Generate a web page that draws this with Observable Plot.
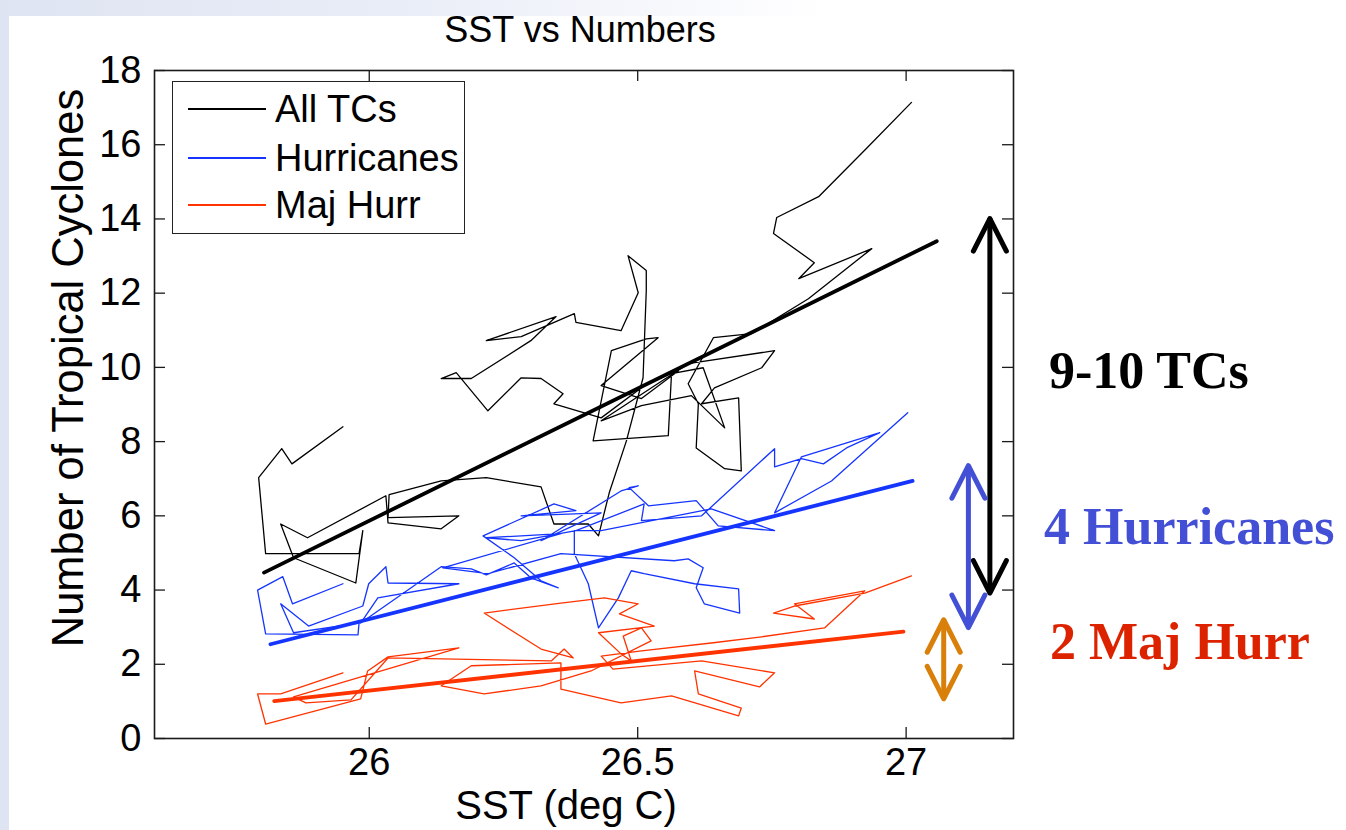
<!DOCTYPE html>
<html><head><meta charset="utf-8">
<script src="https://cdn.jsdelivr.net/npm/d3@7"></script>
<script src="https://cdn.jsdelivr.net/npm/@observablehq/plot@0.6"></script>
<style>
body{margin:0;background:#fff;}
#page{position:relative;width:1346px;height:830px;overflow:hidden;background:#fff;font-family:"Liberation Sans",Arial,Helvetica,sans-serif;color:#000}
#lstrip{position:absolute;left:0;top:0;width:9px;height:830px;background:#dfe4f2}
#tstrip{position:absolute;left:0;top:0;width:1346px;height:16px;background:linear-gradient(to right,#dfe4f2 0%,#e9edf7 30%,#ffffff 62%)}
#chart{position:absolute;left:0;top:0}
.lbl{position:absolute;white-space:nowrap;line-height:1}
#title{left:580px;top:30px;font-size:36px;transform:translate(-50%,-50%)}
#xlabel{left:566px;top:805px;font-size:40px;transform:translate(-50%,-50%)}
#ylabel{left:69px;top:368px;font-size:43.5px;transform:translate(-50%,-50%) rotate(-90deg)}
#legend{position:absolute;left:172px;top:81px;width:293px;height:153px;box-sizing:border-box;border:1.6px solid #222;background:#fff}
.sw{position:absolute;left:15px;width:78px;height:1.4px}
.lt{position:absolute;left:102px;font-size:38px;line-height:1;transform:translateY(-50%);white-space:nowrap}
</style></head>
<body>
<div id="page">
  <div id="lstrip"></div><div id="tstrip"></div>
  <div id="chart"></div>
  <div class="lbl" id="title">SST vs Numbers</div>
  <div class="lbl" id="xlabel">SST (deg C)</div>
  <div class="lbl" id="ylabel">Number of Tropical Cyclones</div>
  <div id="legend"></div>
</div>
<script>
// ---- data ----
const allSST   = [25.951,25.856,25.837,25.794,25.807,25.981,25.988,25.975,25.859,25.835,25.885,
  26.031,26.035,26.134,26.167,26.035,26.037,26.134,26.218,26.320,26.344,26.408,26.427,26.447,
  26.479,26.510,26.516,26.516,26.482,26.501,26.469,26.385,26.382,26.283,26.218,
  26.348,26.301,
  26.190,26.134,26.162,26.221,26.283,26.320,26.361,26.344,
  26.432,26.520,26.576,26.507,
  26.432,26.538,26.516,26.451,26.417,26.557,26.563,26.622,26.662,26.600,26.507,26.432,26.594,26.755,26.731,26.643,26.619,26.688,26.693,26.662,26.609,26.613,26.594,26.641,26.712,26.818,26.936,26.800,26.829,26.753,26.759,26.837,26.926,27.010];
const allCount = [8.40,7.40,7.81,7.03,4.98,4.98,5.60,4.19,4.87,5.78,5.41,
  6.54,5.81,5.65,6.00,5.95,6.57,6.94,7.03,6.78,5.78,5.78,5.46,6.62,
  8.02,9.72,12.07,12.61,13.01,12.01,10.99,11.21,11.45,10.83,10.72,
  11.37,10.72,
  9.70,9.70,9.86,8.83,9.72,9.70,9.29,9.02,
  8.64,9.59,9.91,9.16,
  9.51,10.80,10.77,10.45,8.02,8.16,9.83,9.99,8.37,9.24,8.97,8.56,10.10,10.45,9.99,9.45,9.02,9.18,7.21,7.27,7.83,9.02,9.56,10.80,10.91,11.85,13.20,12.39,12.82,13.61,14.04,14.60,15.90,17.14];

const hurSST   = [25.951,25.857,25.839,25.792,25.807,25.979,25.981,25.859,25.835,25.887,25.988,25.999,26.031,26.035,26.167,26.016,25.984,26.134,26.190,26.218,26.270,26.301,26.352,26.320,26.270,26.212,26.344,26.385,26.283,
  26.432,26.320,
  26.469,26.501,26.484,26.520,26.609,26.650,26.755,26.637,26.432,26.382,26.382,26.408,26.427,26.464,26.488,26.512,26.606,26.688,26.690,26.624,26.609,26.622,26.594,26.568,26.357,26.221,26.137,26.357,26.218,
  26.283,26.385,26.512,
  26.507,26.619,26.755,26.755,26.805,26.846,26.889,26.951,26.805,26.755,26.861,27.003];
const hurCount = [4.17,3.63,4.36,4.00,2.82,2.79,3.11,2.85,3.63,3.03,3.57,4.17,4.63,4.19,4.17,3.79,3.11,4.63,4.57,4.41,4.73,4.33,4.06,4.25,4.87,5.46,6.32,6.14,6.00,
  6.08,5.33,
  6.67,6.81,6.76,6.27,6.41,5.73,5.60,6.19,5.60,5.60,4.98,4.17,2.98,3.79,4.52,4.44,4.17,4.03,3.38,3.63,4.06,4.60,4.84,4.79,4.98,4.44,4.60,5.52,5.41,
  5.33,5.60,6.32,
  5.87,6.00,7.81,7.32,7.54,7.40,7.83,8.24,7.59,6.08,6.94,8.78];

const majSST   = [25.951,25.835,25.792,25.807,25.984,25.997,26.035,26.167,25.859,25.882,25.966,26.035,26.339,26.363,26.380,26.320,26.214,26.357,26.438,26.501,26.466,26.531,26.427,26.469,
  26.488,26.473,26.507,26.525,
  26.413,26.320,26.214,26.134,
  26.190,26.357,
  26.357,26.469,26.563,26.688,26.693,26.613,26.606,26.727,26.755,26.619,26.454,26.432,26.507,26.641,26.731,26.848,26.923,26.792,26.829,26.753,26.792,26.923,27.010];
const majCount = [1.77,1.20,1.20,0.39,1.07,1.82,2.20,2.44,1.12,0.96,1.04,2.17,2.09,2.41,2.17,2.41,3.38,3.65,3.79,3.63,3.36,3.03,2.85,2.28,
  2.09,2.76,2.98,2.63,
  1.82,1.42,1.20,1.42,
  1.96,2.04,
  1.33,0.96,1.15,0.61,0.82,1.20,1.82,1.39,1.77,2.09,1.87,2.22,2.36,2.58,2.74,2.98,3.98,3.63,3.22,3.38,3.57,3.92,4.38];

// linear fits (end points)
const allFitSST = [25.804, 27.057], allFitCount = [4.47, 13.40];
const hurFitSST = [25.816, 27.012], hurFitCount = [2.54, 6.94];
const majFitSST = [25.823, 26.995], majFitCount = [1.01, 2.88];

const seriesNames  = ["All TCs", "Hurricanes", "Maj Hurr"];
const seriesColors = ["#000000", "#1535ff", "#ff3300"];

const xTicks = [26, 26.5, 27], xTickLabels = ["26", "26.5", "27"];
const yTicks = [0, 2, 4, 6, 8, 10, 12, 14, 16, 18];
const yTickLabels = ["0", "2", "4", "6", "8", "10", "12", "14", "16", "18"];

// annotation arrows (double headed) and labels
const arrowSST    = [27.156, 27.116, 27.070];
const arrowLow    = [3.92, 2.99, 1.07];
const arrowHigh   = [14.01, 7.35, 3.20];
const arrowColors = ["#000000", "#4350d6", "#d9800a"];
const noteLabels  = ["9-10 TCs", "4 Hurricanes", "2 Maj Hurr"];
const noteSST     = [27.266, 27.257, 27.268];
const noteCount   = [9.90, 5.68, 2.58];
const noteColors  = ["#000000", "#4350d6", "#dd2200"];

// ---- build ----
const W = 1346, H = 830, ML = 154, MR = 333, MT = 70, MB = 92;
const frameW = W - ML - MR, frameH = H - MT - MB, tickLen = 11;
const toRows = (xs, ys) => xs.map((x, i) => ({x, y: ys[i]}));

const thin = [[allSST, allCount], [hurSST, hurCount], [majSST, majCount]];
const fits = [[allFitSST, allFitCount], [hurFitSST, hurFitCount], [majFitSST, majFitCount]];

const chevron = {draw(ctx) { ctx.moveTo(-16.5, 32.5); ctx.lineTo(0, 0); ctx.lineTo(16.5, 32.5); }};

const marks = [];
thin.forEach(([xs, ys], k) => marks.push(Plot.line(toRows(xs, ys), {x: "x", y: "y", stroke: seriesColors[k], strokeWidth: 1.3})));
fits.forEach(([xs, ys], k) => marks.push(Plot.line(toRows(xs, ys), {x: "x", y: "y", stroke: seriesColors[k], strokeWidth: 3.8})));
marks.push(Plot.frame({stroke: "#1a1a1a", strokeWidth: 1.6}));
marks.push(Plot.tickY(yTicks, {y: d => d, insetRight: frameW - tickLen, stroke: "#1a1a1a", strokeWidth: 1.3}));
marks.push(Plot.tickY(yTicks, {y: d => d, insetLeft: frameW - tickLen, stroke: "#1a1a1a", strokeWidth: 1.3}));
marks.push(Plot.tickX(xTicks, {x: d => d, insetTop: frameH - tickLen, stroke: "#1a1a1a", strokeWidth: 1.3}));
marks.push(Plot.tickX(xTicks, {x: d => d, insetBottom: frameH - tickLen, stroke: "#1a1a1a", strokeWidth: 1.3}));
marks.push(Plot.axisX(xTicks, {anchor: "bottom", tickSize: 0, tickPadding: 10, label: null, fontSize: 38, tickFormat: d => xTickLabels[xTicks.indexOf(d)]}));
marks.push(Plot.axisY(yTicks, {anchor: "left", tickSize: 0, tickPadding: 13, label: null, fontSize: 38, tickFormat: d => yTickLabels[yTicks.indexOf(d)]}));

arrowSST.forEach((x, k) => {
  const rows = [{x, y1: arrowLow[k], y2: arrowHigh[k]}];
  marks.push(Plot.ruleX(rows, {x: "x", y1: "y1", y2: "y2", stroke: arrowColors[k], strokeWidth: 5}));
  marks.push(Plot.vector([{x, y: arrowHigh[k], r: 0}, {x, y: arrowLow[k], r: 180}],
    {x: "x", y: "y", rotate: "r", length: 30, anchor: "start", shape: chevron,
     stroke: arrowColors[k], strokeWidth: 5, strokeLinecap: "round", strokeLinejoin: "round"}));
});
noteLabels.forEach((t, k) => marks.push(Plot.text([{x: noteSST[k], y: noteCount[k], t}],
  {x: "x", y: "y", text: "t", textAnchor: "start", fill: noteColors[k], fontSize: 52, fontWeight: "bold",
   fontFamily: "'Liberation Serif','Times New Roman',Times,serif"})));

const chart = Plot.plot({
  width: W, height: H, marginTop: MT, marginBottom: MB, marginLeft: ML, marginRight: MR,
  x: {domain: [25.6, 27.2]},
  y: {domain: [0, 18]},
  style: {fontFamily: "'Liberation Sans',Arial,Helvetica,sans-serif", fontSize: "38px", color: "#000", background: "transparent", overflow: "visible"},
  marks
});
document.getElementById("chart").appendChild(chart);

// legend
const lg = document.getElementById("legend");
const rowY = [27, 76, 123];
seriesNames.forEach((name, k) => {
  const sw = document.createElement("div");
  sw.className = "sw"; sw.style.top = (rowY[k] - 0.7) + "px"; sw.style.background = seriesColors[k];
  lg.appendChild(sw);
  const t = document.createElement("div");
  t.className = "lt"; t.style.top = rowY[k] + "px"; t.textContent = name;
  lg.appendChild(t);
});
</script>
</body></html>
